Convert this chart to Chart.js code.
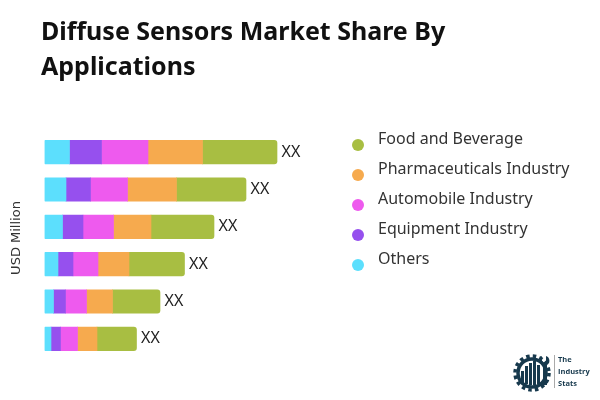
<!DOCTYPE html>
<html>
<head>
<meta charset="utf-8">
<script src="https://cdn.jsdelivr.net/npm/chart.js@4"></script>
<style>
body { margin: 0; background: #fff; }
#wrap { position: relative; width: 600px; height: 400px; overflow: hidden; font-family: "Noto Sans", sans-serif; }
#titulo { position: absolute; left: 41px; top: 13px; width: 480px; font-size: 25px; line-height: 35px; font-weight: 700; color: #111; }
#leyenda div { position: absolute; left: 378px; font-size: 16px; line-height: 22px; color: #333; white-space: nowrap; }
#leyenda span { position: absolute; left: -26px; top: 12px; width: 12px; height: 12px; border-radius: 50%; }
#logo { position: absolute; left: 512px; top: 350px; }
#logoTexto { position: absolute; left: 558px; top: 353px; font-family: "Open Sans"; font-size: 7.5px; line-height: 12px; font-weight: 700; color: #17394d; }
canvas { position: absolute; left: 0; top: 0; }
</style>
</head>
<body>
<div id="wrap">
  <canvas id="myChart" width="600" height="400"></canvas>
  <div id="titulo">Diffuse Sensors Market Share By Applications</div>
  <div id="leyenda"></div>
  <svg id="logo" width="44" height="44" viewBox="0 0 44 44">
    <circle cx="20" cy="23" r="14" fill="none" stroke="#17394d" stroke-width="3.5"/>
    <circle cx="20" cy="23" r="17" fill="none" stroke="#17394d" stroke-width="3.5" stroke-dasharray="3.5 3.2"/>
    <rect x="9" y="21" width="3" height="12" fill="#17394d"/>
    <rect x="13" y="16" width="3" height="18" fill="#17394d"/>
    <rect x="17" y="13" width="3" height="22" fill="#17394d"/>
    <rect x="21" y="11" width="3" height="24" fill="#17394d"/>
    <rect x="25" y="15" width="3" height="19" fill="#17394d"/>
    <path d="M30 6 v5 l2 2 l2 -2 v-5 c3 1 4 4 3 7 l-2 2 v20 h-4 v-20 l-2 -2 c-2 -3 -1 -6 1 -7z" fill="#17394d"/>
    <rect x="42" y="5" width="1" height="33" fill="#aaa"/>
  </svg>
  <div id="logoTexto">The<br>Industry<br>Stats</div>
</div>
<script>
const categorias = ['A', 'B', 'C', 'D', 'E', 'F'];
const others = [25, 21.5, 18, 13.5, 9, 6.5];
const equipment = [32, 24.5, 20.5, 15, 12, 9.5];
const automobile = [46.5, 37, 30.5, 25, 21, 17];
const pharmaceuticals = [54.5, 49, 37.5, 31, 26, 19.5];
const food = [74.5, 69.5, 63, 55.5, 47.5, 39.5];
const etiquetas = ['XX', 'XX', 'XX', 'XX', 'XX', 'XX'];

const colorOthers = '#5CDFFD';
const colorEquipment = '#9650EE';
const colorAutomobile = '#EE5AEE';
const colorPharma = '#F6AA4E';
const colorFood = '#A8BE42';

// etiquetas XX al final de cada barra y el titulo del eje
const textosBarras = {
    id: 'textosBarras',
    afterDraw(chart) {
        const ctx = chart.ctx;
        const barras = chart.getDatasetMeta(4).data;
        ctx.save();
        ctx.fillStyle = '#222';
        ctx.font = '16px "Noto Sans"';
        ctx.textBaseline = 'middle';
        barras.forEach((barra, i) => {
            ctx.fillText(etiquetas[i], barra.x + 4.5, barra.y);
        });
        ctx.translate(17, 238);
        ctx.rotate(-Math.PI / 2);
        ctx.font = '13px "DejaVu Sans"';
        ctx.fillStyle = '#333';
        ctx.textAlign = 'center';
        ctx.fillText('USD Million', 0, 0);
        ctx.restore();
    }
};

const datasets = [
    { label: 'Others', data: others, backgroundColor: colorOthers, borderRadius: { topLeft: 1, bottomLeft: 1 } },
    { label: 'Equipment Industry', data: equipment, backgroundColor: colorEquipment },
    { label: 'Automobile Industry', data: automobile, backgroundColor: colorAutomobile },
    { label: 'Pharmaceuticals Industry', data: pharmaceuticals, backgroundColor: colorPharma },
    { label: 'Food and Beverage', data: food, backgroundColor: colorFood, borderRadius: { topRight: 3, bottomRight: 3 } }
];
datasets.forEach(d => { d.barThickness = 23.5; d.borderSkipped = false; });

const myChart = new Chart(document.getElementById('myChart'), {
    type: 'bar',
    data: { labels: categorias, datasets: datasets },
    plugins: [textosBarras],
    options: {
        indexAxis: 'y',
        responsive: false,
        animation: false,
        layout: { padding: { left: 44.5, right: 55.5, top: 133.5, bottom: 42.5 } },
        plugins: { legend: { display: false }, tooltip: { enabled: false } },
        scales: {
            x: { stacked: true, min: 0, max: 500, display: false },
            y: { stacked: true, display: false }
        }
    }
});

// leyenda en orden inverso al apilado
let leyenda = document.getElementById('leyenda');
datasets.slice().reverse().forEach((d, i) => {
    let fila = document.createElement('div');
    fila.style.top = (127 + i * 30) + 'px';
    fila.innerHTML = `<span style="background:${d.backgroundColor}"></span>${d.label}`;
    leyenda.append(fila);
});
</script>
</body>
</html>
